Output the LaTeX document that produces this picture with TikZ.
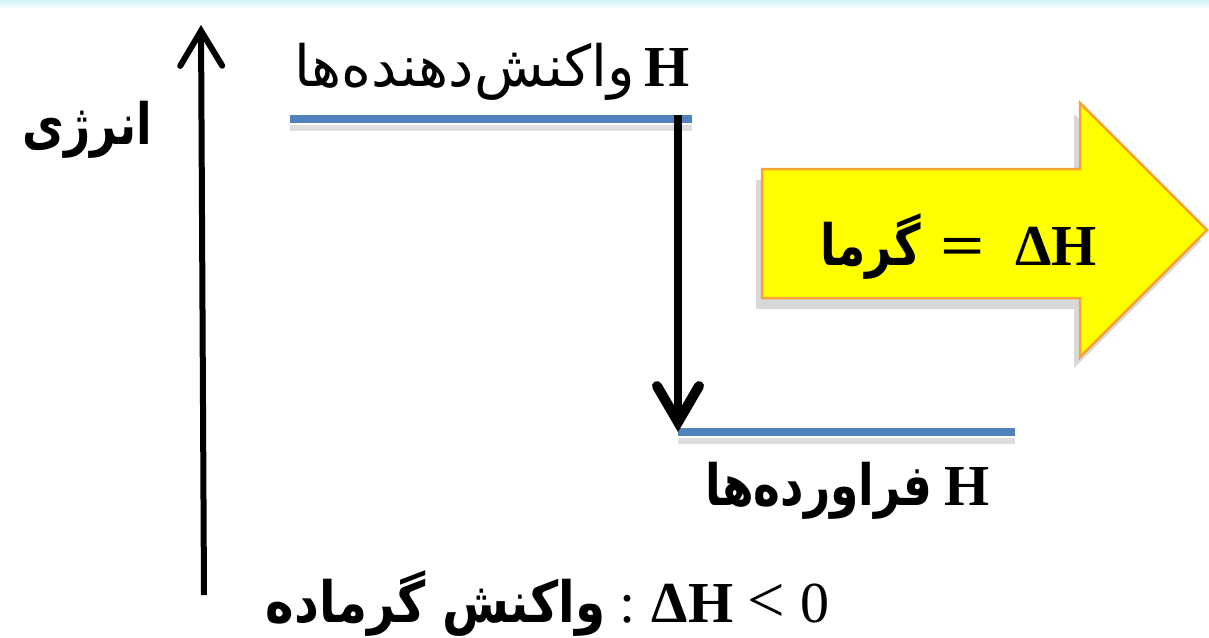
\documentclass[tikz,border=0pt]{standalone}
\usepackage{fontspec}
\setmainfont{Liberation Serif}
\newfontfamily\fa[Script=Arabic]{DejaVu Sans}
\newfontfamily\fab[Script=Arabic,FakeStretch=0.8]{DejaVu Sans}
\newfontfamily\fabw[Script=Arabic,FakeStretch=0.85]{DejaVu Sans}
\TeXXeTstate=1
\usetikzlibrary{arrows.meta}
\definecolor{lvlblue}{HTML}{4F81BD}
\definecolor{arrowyellow}{HTML}{FFFF00}
\definecolor{arroworange}{HTML}{F5A431}
\definecolor{topcyan}{HTML}{CFF4FA}
\tikzset{
  lvl/.style={line width=8.5pt, lvlblue},
  lvlshadow/.style={line width=6pt, black!13},
  lbl/.style={inner sep=0pt, font=\fontsize{58}{66}\selectfont},
}
\newcommand{\fabig}{\fab\bfseries\fontsize{57}{64}\selectfont}
\begin{document}
\begin{tikzpicture}[x=1pt,y=-1pt]
\path[use as bounding box] (0,0) rectangle (1209,637);
\fill[white] (0,0) rectangle (1209,637);
\shade[top color=topcyan, bottom color=white] (0,0) rectangle (1209,9);

% energy axis
\coordinate (axB) at (204,595);
\coordinate (axT) at (201,25);
\draw[line width=6pt, -{Straight Barb[length=35pt,width=42pt,line cap=round]}] (axB) -- (axT);

% levels
\coordinate (r1) at (290,119);
\coordinate (r2) at (692,119);
\coordinate (p1) at (678,432);
\coordinate (p2) at (1015,432);
\coordinate (d1) at (678,115);
\draw[lvlshadow] ([yshift=-9pt]r1) -- ([yshift=-9pt]r2);
\draw[lvlshadow] ([yshift=-9pt]p1) -- ([yshift=-9pt]p2);
\draw[lvl] (r1) -- (r2);
\draw[lvl] (p1) -- (p2);
\draw[line width=8pt, -{Straight Barb[length=36pt,width=42pt,line width=10pt,line cap=round]}] (d1) -- (p1);

% yellow arrow
\fill[black!30, opacity=0.5, xshift=-6pt, yshift=-11pt]
  (762,169) -- (1080,169) -- (1080,103) -- (1207,230) -- (1080,357) -- (1080,298) -- (762,298) -- cycle;
\draw[fill=arrowyellow, draw=arroworange, line width=2.5pt, line join=miter]
  (762,169) -- (1080,169) -- (1080,103) -- (1207,230) -- (1080,357) -- (1080,298) -- (762,298) -- cycle;

% labels
\node[lbl, anchor=base east] (reactLbl) at (690,86)
  {{\fa\fontsize{57}{64}\selectfont\beginR واکنش‌دهنده‌ها\endR}\hspace{10pt}\textbf{H}};
\node[lbl, anchor=base east] (energyLbl) at (152,144)
  {\fabig\beginR انرژی\endR};
\node[lbl, anchor=base east] (heatLbl) at (1097,265)
  {{\fabig\beginR گرما\endR}\hspace{20pt}\scalebox{1.35}[1]{\textbf{=}}\hspace{30pt}\textbf{ΔH}};
\node[lbl, anchor=base east] (prodLbl) at (990,505)
  {{\fabig\beginR فراورده‌ها\endR}\hspace{12pt}\textbf{H}};
\node[lbl, anchor=base east] (bottomLbl) at (830,622)
  {{\fabw\bfseries\fontsize{57}{64}\selectfont\beginR واکنش گرماده\endR}\hspace{14pt}:\hspace{16pt}\textbf{ΔH}\hspace{14pt}\scalebox{1.15}{<}\hspace{16pt}0};
\end{tikzpicture}
\end{document}
